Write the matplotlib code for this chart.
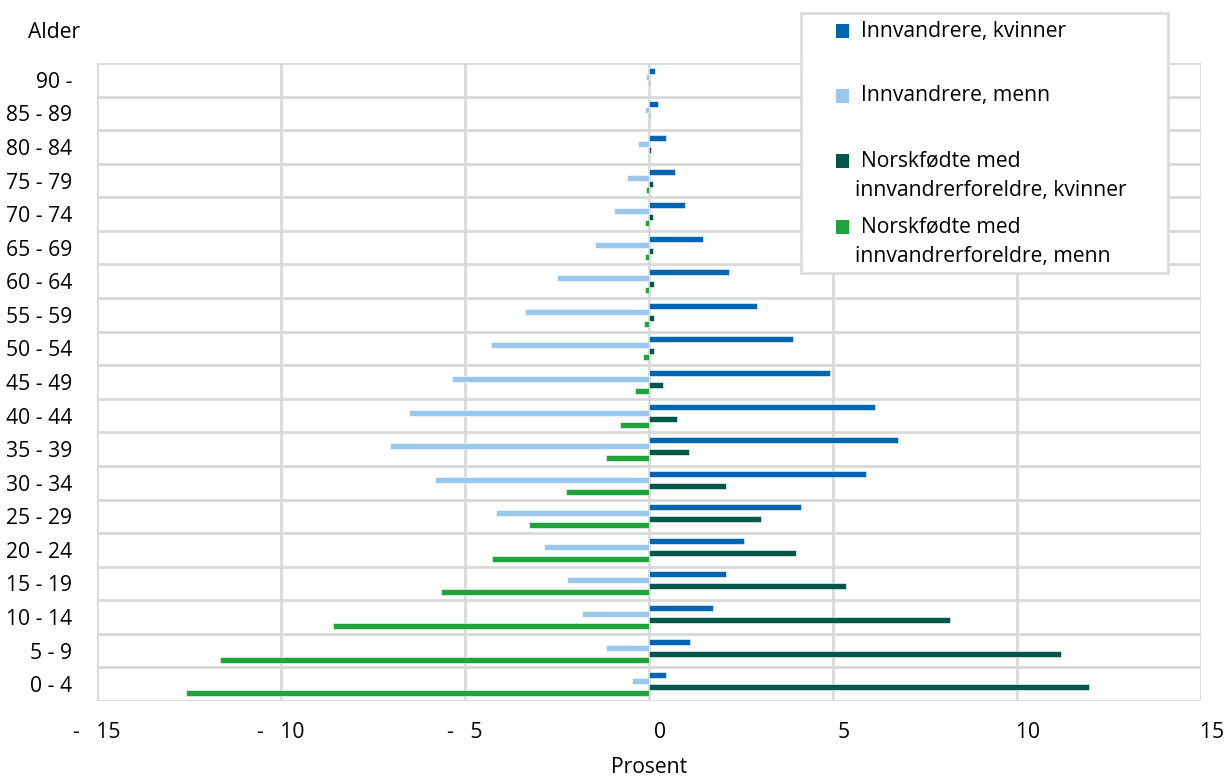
import matplotlib
matplotlib.use("Agg")
import matplotlib.pyplot as plt
from matplotlib.patches import Rectangle
import numpy as np

plt.rcParams['font.family'] = ['Open Sans', 'DejaVu Sans']

ages = ["0 - 4", "5 - 9", "10 - 14", "15 - 19", "20 - 24", "25 - 29", "30 - 34",
        "35 - 39", "40 - 44", "45 - 49", "50 - 54", "55 - 59", "60 - 64",
        "65 - 69", "70 - 74", "75 - 79", "80 - 84", "85 - 89", "90 -"]

# percent, men shown as negative values
innv_kvinner = [0.46, 1.11, 1.74, 2.09, 2.59, 4.14, 5.90, 6.77, 6.15, 4.93,
                3.91, 2.94, 2.17, 1.46, 0.98, 0.71, 0.45, 0.25, 0.17]
innv_menn = [-0.46, -1.17, -1.83, -2.22, -2.85, -4.16, -5.81, -7.03, -6.52, -5.35,
             -4.29, -3.37, -2.50, -1.48, -0.94, -0.61, -0.30, -0.11, -0.07]
nf_kvinner = [11.96, 11.20, 8.19, 5.36, 3.99, 3.03, 2.10, 1.09, 0.76, 0.37,
              0.13, 0.13, 0.13, 0.10, 0.10, 0.10, 0.05, 0.03, 0.02]
nf_menn = [-12.57, -11.65, -8.58, -5.65, -4.26, -3.27, -2.25, -1.16, -0.78, -0.37,
           -0.15, -0.13, -0.11, -0.10, -0.10, -0.08, -0.03, -0.02, -0.01]

labels = ["Innvandrere, kvinner", "Innvandrere, menn",
          "Norskfødte med\ninnvandrerforeldre, kvinner",
          "Norskfødte med\ninnvandrerforeldre, menn"]
colors = ["#0065b0", "#99c8ec", "#00574a", "#21a23a"]

xticks = [-15, -10, -5, 0, 5, 10, 15]
xticklabels = ["-   15", "-   10", "-   5", "    0", "    5", "    10", "    15"]

fs = 15.2
grid_c = "#d9d9d9"

fig = plt.figure(figsize=(12.26, 7.76), dpi=100)
ax = fig.add_axes([97 / 1226, 1 - 701 / 776, 1104 / 1226, 638 / 776])

y = np.arange(len(ages))
h = 0.179
series = [innv_kvinner, innv_menn, nf_kvinner, nf_menn]
for k, (vals, c) in enumerate(zip(series, colors)):
    ax.barh(y + (1.5 - k) * h, vals, height=h, color=c, edgecolor="white",
            linewidth=0.4, zorder=3)

ax.set_xlim(-15, 15)
ax.set_ylim(-0.5, len(ages) - 0.5)
ax.set_xticks(xticks)
ax.set_xticklabels(xticklabels, fontsize=fs)
ax.set_yticks(y)
ax.set_yticklabels(ages, fontsize=fs)
ax.set_yticks(np.arange(-0.5, len(ages)), minor=True)
ax.tick_params(axis='both', which='both', length=0)
ax.tick_params(axis='x', pad=15)
ax.tick_params(axis='y', pad=18)
ax.grid(axis='x', which='major', color=grid_c, linewidth=2, zorder=0)
ax.grid(axis='y', which='minor', color=grid_c, linewidth=2, zorder=0)
ax.grid(axis='y', which='major', visible=False)
for s in ax.spines.values():
    s.set_visible(False)
ax.set_axisbelow(True)

ax.set_xlabel("Prosent", fontsize=fs, labelpad=10)
fig.text(54 / 1226, 1 - 33 / 776, "Alder", fontsize=fs, ha="center", va="center")

# legend box drawn by hand to match the spacing
W, H = 1226, 776
fig.add_artist(Rectangle((801 / W, 1 - 273 / H), 367 / W, 260 / H,
                         transform=fig.transFigure, facecolor="white",
                         edgecolor=grid_c, linewidth=1.8, zorder=5))
marker_y = [31, 96, 161, 227]
for lab, c, my in zip(labels, colors, marker_y):
    fig.add_artist(Rectangle((836 / W, 1 - (my + 6.5) / H), 13 / W, 13 / H,
                             transform=fig.transFigure, facecolor=c,
                             edgecolor="none", zorder=6))
    first, *rest = lab.split("\n")
    fig.text(861 / W, 1 - my / H, first, fontsize=fs, ha="left", va="center", zorder=7)
    for j, line in enumerate(rest):
        fig.text(855 / W, 1 - (my + 29.5 * (j + 1)) / H, line, fontsize=fs,
                 ha="left", va="center", zorder=7)

fig.savefig("out.png", dpi=100)
